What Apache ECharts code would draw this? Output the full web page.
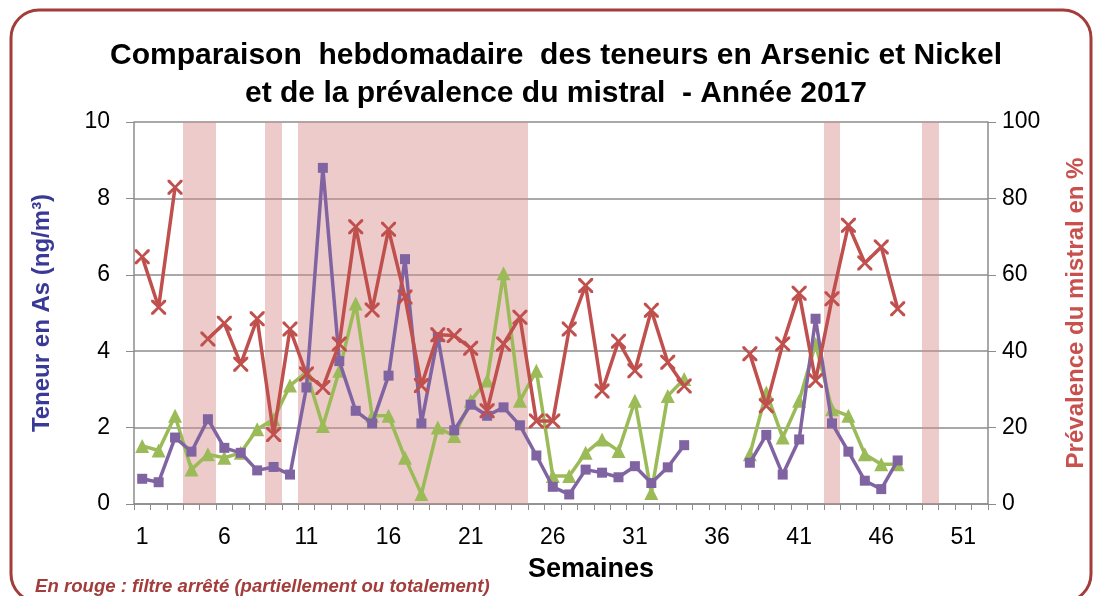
<!DOCTYPE html>
<html>
<head>
<meta charset="utf-8">
<script src="https://cdn.jsdelivr.net/npm/echarts@6/dist/echarts.min.js"></script>
<style>
  html, body { margin: 0; padding: 0; background: #fff; }
  #chart { width: 1099px; height: 596px; }
</style>
</head>
<body>
<div id="chart"></div>
<script>
// semaines 1..52
const weeks = ["1","2","3","4","5","6","7","8","9","10","11","12","13","14","15","16","17","18","19","20",
  "21","22","23","24","25","26","27","28","29","30","31","32","33","34","35","36","37","38","39","40",
  "41","42","43","44","45","46","47","48","49","50","51","52"];

// semaines où le filtre est arrêté (bandes rouges)
const filterOffWeeks = [4, 5, 9, 11, 12, 13, 14, 15, 16, 17, 18, 19, 20, 21, 22, 23, 24, 43, 49];

// teneur en arsenic (ng/m3) - violet
const arsenic = [0.66, 0.57, 1.74, 1.37, 2.22, 1.47, 1.34, 0.88, 0.97, 0.77,
  3.05, 8.80, 3.74, 2.44, 2.11, 3.36, 6.41, 2.11, 4.37, 1.93,
  2.60, 2.31, 2.53, 2.06, 1.27, 0.45, 0.25, 0.90, 0.82, 0.70,
  0.99, 0.55, 0.96, 1.54, null, null, null, 1.08, 1.81, 0.77,
  1.69, 4.85, 2.11, 1.37, 0.61, 0.39, 1.14, null, null, null, null, null];

// teneur en nickel - vert
const nickel = [1.52, 1.40, 2.31, 0.90, 1.30, 1.21, 1.34, 1.96, 2.22, 3.10,
  3.45, 2.04, 3.49, 5.25, 2.31, 2.31, 1.21, 0.26, 2.00, 1.78,
  2.70, 3.23, 6.04, 2.70, 3.49, 0.73, 0.73, 1.34, 1.69, 1.39,
  2.70, 0.29, 2.83, 3.27, null, null, null, 1.30, 2.92, 1.74,
  2.70, 4.19, 2.48, 2.31, 1.30, 1.04, 1.04, null, null, null, null, null];

// prévalence du mistral (%) - rouge
const mistral = [64.7, 51.5, 82.9, null, 43.2, 47.3, 36.6, 48.5, 18.2, 45.8,
  34.0, 30.5, 41.9, 72.6, 50.8, 71.9, 54.2, 31.0, 44.3, 44.1,
  40.8, 24.4, 41.9, 48.9, 21.7, 21.7, 45.8, 57.2, 29.6, 42.6,
  34.9, 50.7, 37.1, 30.9, null, null, null, 39.3, 25.7, 41.9,
  55.2, 32.3, 53.7, 73.0, 63.1, 67.3, 51.1, null, null, null, null, null];

const leftTicks = [0, 2, 4, 6, 8, 10];
const rightTicks = [0, 20, 40, 60, 80, 100];

const font = "'Liberation Sans', Arial, sans-serif";
const leftMax = leftTicks[leftTicks.length - 1];
const bandData = filterOffWeeks.map(w => [String(w), leftMax]);
const crossSymbol = "path://M0,0 L3,0 L10,7.5 L17,0 L20,0 L20,3 L12.5,10 L20,17 L20,20 L17,20 L10,12.5 L3,20 L0,20 L0,17 L7.5,10 L0,3 Z";

// bandes pleine largeur de catégorie, bords arrondis au pixel (pas de couture)
function renderBand(params, api) {
  const top = api.coord([api.value(0), api.value(1)]);
  const bottom = api.coord([api.value(0), 0]);
  const w = api.size([1, 0])[0];
  const x0 = Math.round(top[0] - w / 2);
  const x1 = Math.round(top[0] + w / 2);
  return {
    type: "rect",
    shape: { x: x0, y: top[1], width: x1 - x0, height: bottom[1] - top[1] },
    style: { fill: "rgba(215, 140, 140, 0.45)" }
  };
}

const chart = echarts.init(document.getElementById("chart"));

chart.setOption({
  animation: false,
  backgroundColor: "#fff",
  title: {
    text: "Comparaison  hebdomadaire  des teneurs en Arsenic et Nickel\net de la prévalence du mistral  - Année 2017",
    left: 551,
    textAlign: "center",
    top: 32,
    textStyle: {
      fontFamily: font,
      fontWeight: "bold",
      fontSize: 30,
      lineHeight: 38,
      color: "#000"
    }
  },
  graphic: [
    {
      type: "rect",
      shape: { x: 11, y: 10, width: 1080, height: 592, r: 28 },
      style: { fill: "none", stroke: "#a23d3b", lineWidth: 3 },
      silent: true
    },
    {
      type: "text",
      left: 35,
      top: 577,
      style: {
        text: "En rouge : filtre arrêté (partiellement ou totalement)",
        fontFamily: font,
        fontStyle: "italic",
        fontWeight: "bold",
        fontSize: 18.6,
        fill: "#a23d3b"
      }
    }
  ],
  grid: { left: 134, right: 111, top: 122, bottom: 92 },
  xAxis: {
    type: "category",
    data: weeks,
    boundaryGap: true,
    name: "Semaines",
    nameLocation: "middle",
    nameGap: 52,
    nameTextStyle: {
      fontFamily: font, fontWeight: "bold", fontSize: 27, color: "#000",
      padding: [0, 0, 0, 60]
    },
    axisLine: { lineStyle: { color: "#8c8c8c", width: 1.5 } },
    axisTick: { show: true, interval: 0, length: 6, lineStyle: { color: "#8c8c8c" } },
    axisLabel: { interval: 4, margin: 22, fontFamily: font, fontSize: 23, color: "#000" },
    splitLine: { show: false }
  },
  yAxis: [
    {
      type: "value",
      min: leftTicks[0],
      max: leftMax,
      interval: 2,
      name: "Teneur en As (ng/m³)",
      nameLocation: "middle",
      nameRotate: 90,
      nameGap: 80,
      nameTextStyle: { fontFamily: font, fontWeight: "bold", fontSize: 24, color: "#3a3a96" },
      axisLine: { show: true, lineStyle: { color: "#8c8c8c", width: 1.5 } },
      axisTick: { show: true, length: 8, lineStyle: { color: "#8c8c8c" } },
      axisLabel: { margin: 24, fontFamily: font, fontSize: 23, color: "#000" },
      splitLine: { show: true, lineStyle: { color: "#8c8c8c", width: 1.5 } }
    },
    {
      type: "value",
      min: rightTicks[0],
      max: rightTicks[rightTicks.length - 1],
      interval: 20,
      position: "right",
      name: "Prévalence du mistral en %",
      nameLocation: "middle",
      nameRotate: 90,
      nameGap: 76,
      nameTextStyle: { fontFamily: font, fontWeight: "bold", fontSize: 24, color: "#c8504d" },
      axisLine: { show: true, lineStyle: { color: "#8c8c8c", width: 1.5 } },
      axisTick: { show: true, length: 8, lineStyle: { color: "#8c8c8c" } },
      axisLabel: { margin: 14, fontFamily: font, fontSize: 23, color: "#000" },
      splitLine: { show: false }
    }
  ],
  series: [
    {
      name: "Filtre arrêté",
      type: "custom",
      yAxisIndex: 0,
      data: bandData,
      renderItem: renderBand,
      silent: true,
      z: 1
    },
    {
      name: "Arsenic",
      type: "line",
      yAxisIndex: 0,
      data: arsenic,
      showAllSymbol: true,
      symbol: "rect",
      symbolSize: 10,
      lineStyle: { color: "#8064a2", width: 3.5 },
      itemStyle: { color: "#8064a2" },
      z: 4
    },
    {
      name: "Nickel",
      type: "line",
      yAxisIndex: 0,
      data: nickel,
      showAllSymbol: true,
      symbol: "triangle",
      symbolSize: 14,
      lineStyle: { color: "#9bbb59", width: 3.5 },
      itemStyle: { color: "#9bbb59" },
      z: 3
    },
    {
      name: "Mistral",
      type: "line",
      yAxisIndex: 1,
      data: mistral,
      showAllSymbol: true,
      symbol: crossSymbol,
      symbolSize: 15,
      lineStyle: { color: "#c0504d", width: 3.5 },
      itemStyle: { color: "#c0504d" },
      z: 5
    }
  ]
});
</script>
</body>
</html>
